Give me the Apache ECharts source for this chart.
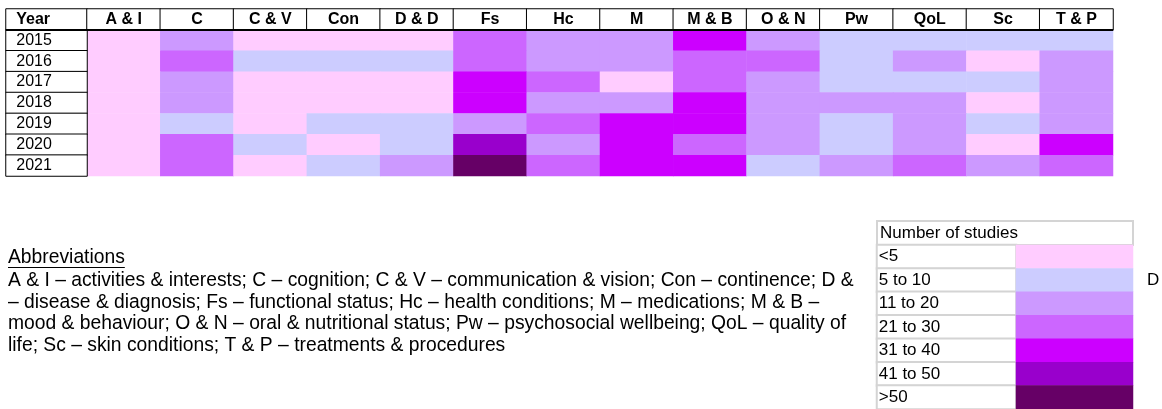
<!DOCTYPE html>
<html>
<head>
<meta charset="utf-8">
<script src="https://cdn.jsdelivr.net/npm/echarts@6/dist/echarts.min.js"></script>
<style>
html,body{margin:0;padding:0;background:#fff;}
#chart{width:1162px;height:409px;}
</style>
</head>
<body>
<div id="chart"></div>
<script>
// ---- data ----
const categories = ['A & I','C','C & V','Con','D & D','Fs','Hc','M','M & B','O & N','Pw','QoL','Sc','T & P'];
const years = ['2015','2016','2017','2018','2019','2020','2021'];
const binLabels = ['<5','5 to 10','11 to 20','21 to 30','31 to 40','41 to 50','>50'];
const binColors = ['#FFCCFF','#CCCCFF','#CC99FF','#CC66FF','#CC00FF','#9900CC','#660066'];
// bin index (0 = <5 ... 6 = >50) of number of studies, per year, in category order
const y2015 = [0,2,0,0,0,3,2,2,4,2,1,1,1,1];
const y2016 = [0,3,1,1,1,3,2,2,3,3,1,2,0,2];
const y2017 = [0,2,0,0,0,4,3,0,3,2,1,1,1,2];
const y2018 = [0,2,0,0,0,4,2,2,4,2,2,2,0,2];
const y2019 = [0,1,0,1,1,2,3,4,4,2,1,2,1,2];
const y2020 = [0,3,1,0,1,5,2,4,3,2,1,2,0,4];
const y2021 = [0,3,0,1,2,6,3,4,4,1,2,3,2,3];
const rows = [y2015,y2016,y2017,y2018,y2019,y2020,y2021];
const abbrevTitle = 'Abbreviations';
const abbrevLines = [
  'A & I \u2013 activities & interests; C \u2013 cognition; C & V \u2013 communication & vision; Con \u2013 continence; D &',
  '\u2013 disease & diagnosis; Fs \u2013 functional status; Hc \u2013 health conditions; M \u2013 medications; M & B \u2013',
  'mood & behaviour; O & N \u2013 oral & nutritional status; Pw \u2013 psychosocial wellbeing; QoL \u2013 quality of',
  'life; Sc \u2013 skin conditions; T & P \u2013 treatments & procedures'
];
const legendTitle = 'Number of studies';

// ---- build ----
const FONT = 'Liberation Sans, Arial, sans-serif';
const ABBR_FONT = '19.3px ' + FONT;
const mainData = [];
rows.forEach((r, yi) => r.forEach((v, xi) => mainData.push([xi, yi, v])));

const yearColCats = ['Year'].concat(years);
const yearData = yearColCats.map((y, i) => ({
  value: [0, i, 0],
  label: { fontWeight: i === 0 ? 'bold' : 'normal' }
}));
const headerData = categories.map((c, i) => [i, 0, 0]);
const legLabelData = binLabels.map((b, i) => [0, i, i]);
const legSwatchData = binLabels.map((b, i) => [0, i, i]);

const hidden = { show: false };
function catAxis(gi, data, inverse) {
  return { type: 'category', gridIndex: gi, data: data, inverse: !!inverse, show: false,
    axisLine: hidden, axisTick: hidden, axisLabel: hidden, splitLine: hidden };
}

const option = {
  animation: false,
  backgroundColor: '#fff',
  textStyle: { fontFamily: FONT },
  grid: [
    { left: 87, top: 30, width: 1026, height: 146 },   // main heatmap
    { left: 6, top: 9, width: 81, height: 167 },      // year column
    { left: 87, top: 9, width: 1026, height: 21 },    // header row
    { left: 877, top: 245, width: 139, height: 164 }, // legend labels
    { left: 1016, top: 245, width: 117, height: 164 } // legend swatches
  ],
  xAxis: [
    catAxis(0, categories),
    catAxis(1, ['Year']),
    catAxis(2, categories),
    catAxis(3, ['label']),
    catAxis(4, ['swatch'])
  ],
  yAxis: [
    catAxis(0, years, true),
    catAxis(1, yearColCats, true),
    catAxis(2, ['h']),
    catAxis(3, binLabels, true),
    catAxis(4, binLabels, true)
  ],
  visualMap: {
    type: 'piecewise', show: false, dimension: 2, seriesIndex: [0, 4],
    pieces: binColors.map((c, i) => ({ value: i, color: c }))
  },
  series: [
    { type: 'heatmap', xAxisIndex: 0, yAxisIndex: 0, data: mainData,
      itemStyle: { borderWidth: 0 }, emphasis: { disabled: true } },
    { type: 'heatmap', xAxisIndex: 1, yAxisIndex: 1, data: yearData,
      itemStyle: { color: '#fff', borderColor: '#000', borderWidth: 1 },
      label: { show: true, position: 'insideLeft', distance: 11, color: '#000', fontSize: 16, fontFamily: FONT,
        formatter: p => yearColCats[p.data.value[1]] },
      emphasis: { disabled: true } },
    { type: 'heatmap', xAxisIndex: 2, yAxisIndex: 2, data: headerData,
      itemStyle: { color: '#fff', borderColor: '#000', borderWidth: 1 },
      label: { show: true, color: '#000', fontSize: 16, fontWeight: 'bold', fontFamily: FONT,
        formatter: p => categories[p.data[0]] },
      emphasis: { disabled: true } },
    { type: 'heatmap', xAxisIndex: 3, yAxisIndex: 3, data: legLabelData,
      itemStyle: { color: '#fff', borderColor: '#D4D4D4', borderWidth: 2 },
      label: { show: true, position: 'insideLeft', distance: 3, color: '#000', fontSize: 17, fontFamily: FONT,
        formatter: p => binLabels[p.data[1]] },
      emphasis: { disabled: true } },
    { type: 'heatmap', xAxisIndex: 4, yAxisIndex: 4, data: legSwatchData,
      itemStyle: { borderWidth: 0 }, emphasis: { disabled: true } }
  ],
  graphic: [
    { type: 'line', shape: { x1: 6, y1: 30, x2: 1113, y2: 30 }, style: { stroke: '#000', lineWidth: 2 }, z: 100 },
    { type: 'rect', shape: { x: 877, y: 221, width: 256, height: 24 }, style: { fill: '#fff', stroke: '#D4D4D4', lineWidth: 2 } },
    { type: 'text', x: 880, y: 233, style: { text: legendTitle, font: '17px ' + FONT, fill: '#000', textVerticalAlign: 'middle' } },
    { type: 'text', x: 1147, y: 280, style: { text: 'D', font: '17px ' + FONT, fill: '#000', textVerticalAlign: 'middle' } },
    { type: 'text', x: 8, y: 258, style: { text: abbrevTitle, font: ABBR_FONT, fill: '#000', textVerticalAlign: 'middle' } },
    { type: 'line', shape: { x1: 8, y1: 267.5, x2: 8 + 125, y2: 267.5 }, style: { stroke: '#000', lineWidth: 1 }, id: 'ul' },
    { type: 'text', x: 8, y: 270.3, style: { text: abbrevLines.join('\n'), font: ABBR_FONT, lineHeight: 21.5, fill: '#000', textVerticalAlign: 'top' } }
  ]
};

const chart = echarts.init(document.getElementById('chart'), null, { renderer: 'canvas' });
chart.setOption(option);
// underline width matched to the measured title text
let tw = 125;
try { if (echarts.format && echarts.format.getTextRect) tw = echarts.format.getTextRect(abbrevTitle, ABBR_FONT).width; } catch (e) {}
chart.setOption({ graphic: [{ id: 'ul', shape: { x2: 8 + tw } }] });
</script>
</body>
</html>
